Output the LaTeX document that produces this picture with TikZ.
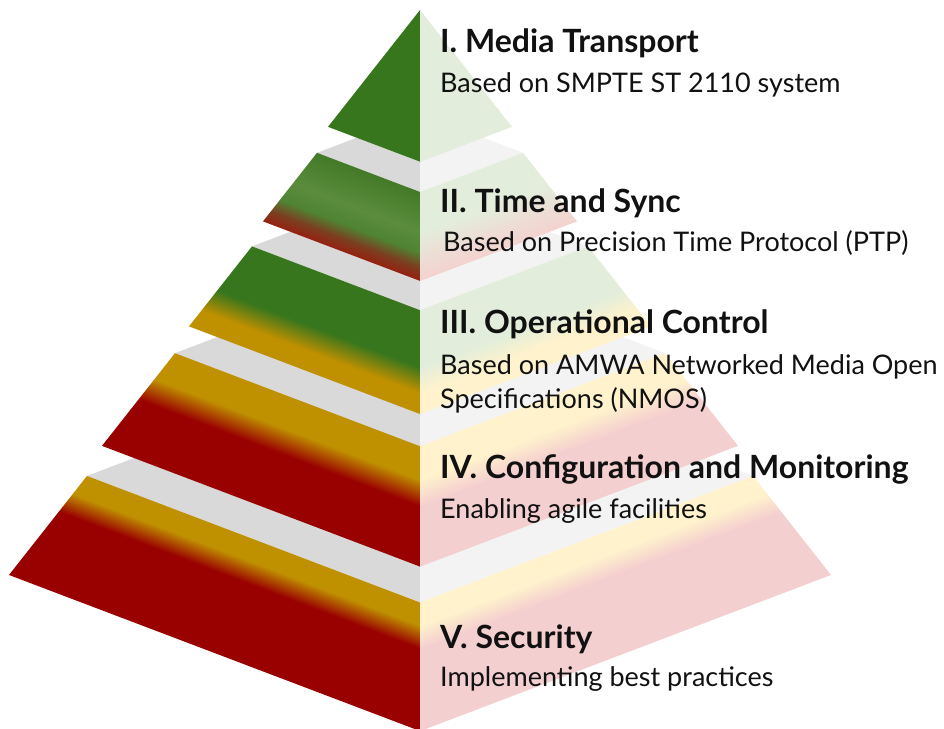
\documentclass[tikz,border=0pt]{standalone}
\usepackage{fontspec}
\setmainfont{Lato}
\definecolor{dg}{HTML}{38761D}
\definecolor{dgb}{HTML}{437A27}
\definecolor{lg}{HTML}{5A8C3C}
\definecolor{mg}{HTML}{4F8434}
\definecolor{br}{HTML}{7A4020}
\definecolor{rb}{HTML}{962010}
\definecolor{dy}{HTML}{BF9000}
\definecolor{dr}{HTML}{990000}
\definecolor{pg}{HTML}{E2EEDB}
\definecolor{py}{HTML}{FFF2CC}
\definecolor{pr}{HTML}{F4CFCF}
\definecolor{pk}{HTML}{EEDCD4}
\definecolor{pk2}{HTML}{F4D2CE}
\definecolor{grayL}{HTML}{D9D9D9}
\definecolor{grayR}{HTML}{F3F3F3}
\definecolor{txt}{HTML}{111111}
\pgfdeclareverticalshading{Lone}{100bp}{color(0bp)=(dg); color(100bp)=(dg)}
\pgfdeclareverticalshading{Rone}{100bp}{color(0bp)=(pg); color(100bp)=(pg)}
\pgfdeclareverticalshading{Ltwo}{100bp}{color(0bp)=(rb); color(25bp)=(rb); color(32.5bp)=(br); color(41bp)=(mg); color(52.5bp)=(lg); color(75bp)=(dgb); color(100bp)=(dgb)}
\pgfdeclareverticalshading{Rtwo}{100bp}{color(0bp)=(pk2); color(25bp)=(pk2); color(36bp)=(pk); color(52.5bp)=(pg); color(100bp)=(pg)}
\pgfdeclareverticalshading{Lthree}{100bp}{color(0bp)=(dy); color(35bp)=(dy); color(47.5bp)=(dg); color(100bp)=(dg)}
\pgfdeclareverticalshading{Rthree}{100bp}{color(0bp)=(py); color(35bp)=(py); color(47.5bp)=(pg); color(100bp)=(pg)}
\pgfdeclareverticalshading{Lfour}{100bp}{color(0bp)=(dr); color(50bp)=(dr); color(61bp)=(dy); color(100bp)=(dy)}
\pgfdeclareverticalshading{Rfour}{100bp}{color(0bp)=(pr); color(50bp)=(pr); color(61bp)=(py); color(100bp)=(py)}
\pgfdeclareverticalshading{Lfive}{100bp}{color(0bp)=(dr); color(57bp)=(dr); color(66bp)=(dy); color(100bp)=(dy)}
\pgfdeclareverticalshading{Rfive}{100bp}{color(0bp)=(pr); color(57bp)=(pr); color(66bp)=(py); color(100bp)=(py)}
\newcommand\pyrlayer[5]{%
 \pgfmathsetmacro\yct{10+1.27*#1+#3}%
 \pgfmathsetmacro\yft{\yct+0.38*#1}%
 \pgfmathsetmacro\ybk{\yct-0.38*#1}%
 \pgfmathsetmacro\ycb{10+1.27*#2+#3}%
 \pgfmathsetmacro\yfb{\ycb+0.38*#2}%
 \pgfmathsetmacro\xlt{420-#1}\pgfmathsetmacro\xrt{420+#1}%
 \pgfmathsetmacro\xlb{420-#2}\pgfmathsetmacro\xrb{420+#2}%
 \fill[grayL] (\xlt,\yct) -- (420.3,\yft) -- (420.3,\ybk) -- cycle;
 \fill[grayR] (\xrt,\yct) -- (420,\yft) -- (420,\ybk) -- cycle;
 \begin{scope}
  \clip (\xlt,\yct) -- (420.4,\yft) -- (420.4,\yfb) -- (\xlb,\ycb) -- cycle;
  \begin{scope}[transform canvas={cm={1,-0.38,0,1,(0,0)}}]
   \shade[shading=#4] (\xlb-3,\yft-159.6) rectangle (422,\yfb-159.6);
  \end{scope}
 \end{scope}
 \begin{scope}
  \clip (\xrt,\yct) -- (420,\yft) -- (420,\yfb) -- (\xrb,\ycb) -- cycle;
  \begin{scope}[transform canvas={cm={1,0.38,0,1,(0,0)}}]
   \shade[shading=#5] (418,\yft+159.6) rectangle (\xrb+3,\yfb+159.6);
  \end{scope}
 \end{scope}
}
\begin{document}
\begin{tikzpicture}[x=1pt,y=-1pt,
  head/.style={anchor=base west,inner sep=0pt,text=txt,font=\fontsize{32}{38}\selectfont\bfseries},
  body/.style={anchor=base west,inner sep=0pt,text=txt,font=\fontsize{27}{32}\selectfont}]
\useasboundingbox (0,0) rectangle (944,728);
\pyrlayer{333}{411}{43}{Lfive}{Rfive}
\pyrlayer{245}{318}{32}{Lfour}{Rfour}
\pyrlayer{168}{231}{23}{Lthree}{Rthree}
\pyrlayer{103}{157}{12}{Ltwo}{Rtwo}
\pyrlayer{0}{92}{0}{Lone}{Rone}
\node[head] (h1) at (440,52) {I. Media Transport};
\node[body] (b1) at (440,92) {Based on SMPTE ST 2110 system};
\node[head] (h2) at (440,212) {II. Time and Sync};
\node[body] (b2) at (443,251) {Based on Precision Time Protocol (PTP)};
\node[head] (h3) at (440,333) {III. Operational Control};
\node[body] (b3a) at (440,374) {Based on AMWA Networked Media Open};
\node[body] (b3b) at (440,408) {Specifications (NMOS)};
\node[head] (h4) at (440,478) {IV. Configuration and Monitoring};
\node[body] (b4) at (440,518) {Enabling agile facilities};
\node[head] (h5) at (440,648) {V. Security};
\node[body] (b5) at (440,686) {Implementing best practices};
\end{tikzpicture}
\end{document}
